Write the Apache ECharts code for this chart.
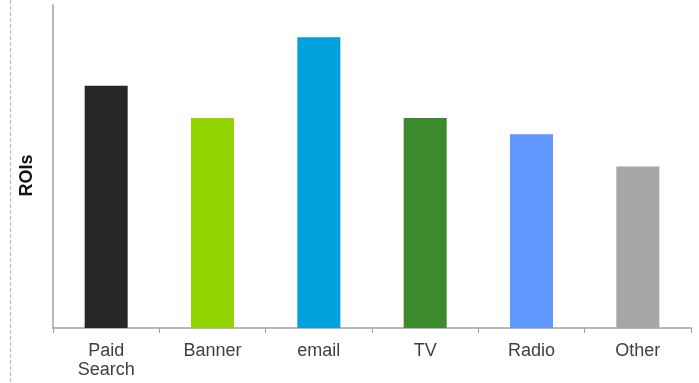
<!DOCTYPE html>
<html>
<head>
<meta charset="utf-8">
<script src="https://cdn.jsdelivr.net/npm/echarts@6/dist/echarts.min.js"></script>
<style>
html,body{margin:0;padding:0;background:#fff;}
#main{width:699px;height:383px;}
</style>
</head>
<body>
<div id="main"></div>
<script>
var categories = ['Paid\nSearch', 'Banner', 'email', 'TV', 'Radio', 'Other'];
var roiValues  = [7.5, 6.5, 9.0, 6.5, 6.0, 5.0];
var barColors  = ['#262626', '#92d400', '#00a0dc', '#3b8a2e', '#6098ff', '#a6a6a6'];

var myChart = echarts.init(document.getElementById('main'));
var option = {
    animation: false,
    grid: {left: 53, right: 8, top: 5, bottom: 55},
    graphic: [{
        type: 'line',
        shape: {x1: 10.5, y1: 0, x2: 10.5, y2: 383},
        style: {stroke: '#c0c0c0', lineWidth: 1.2, lineDash: [4, 2]}
    }],
    xAxis: {
        type: 'category',
        data: categories,
        axisLine: {lineStyle: {color: '#a0a0a0', width: 1.5}},
        axisTick: {show: true, length: 5, lineStyle: {color: '#a0a0a0'}},
        axisLabel: {
            color: '#404040',
            fontFamily: 'Liberation Sans, Arial',
            fontSize: 18,
            lineHeight: 19,
            margin: 14
        }
    },
    yAxis: {
        type: 'value',
        min: 0,
        max: 10,
        name: 'ROIs',
        nameLocation: 'middle',
        nameGap: 17,
        nameRotate: 90,
        nameTextStyle: {
            color: '#111',
            fontFamily: 'Liberation Sans, Arial',
            fontSize: 18,
            fontWeight: 'bold',
            padding: [0, 18, 0, 0]
        },
        axisLine: {show: true, lineStyle: {color: '#a0a0a0', width: 1.5}},
        axisTick: {show: false},
        axisLabel: {show: false},
        splitLine: {show: false}
    },
    series: [{
        type: 'bar',
        barWidth: 43,
        data: roiValues.map(function (v, i) {
            return {value: v, itemStyle: {color: barColors[i]}};
        })
    }]
};
myChart.setOption(option);
</script>
</body>
</html>
